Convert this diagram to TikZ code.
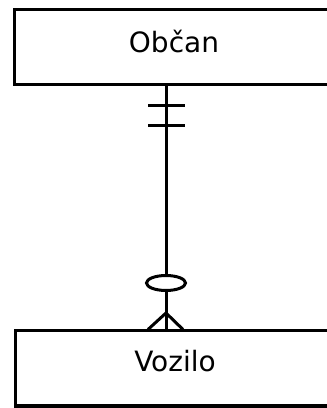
\documentclass[tikz,border=0pt]{standalone}
\usepackage{fontspec}
\setmainfont{DejaVu Sans}
\usepackage{tikz}
\usetikzlibrary{positioning,shapes.geometric}

\begin{document}
\begin{tikzpicture}[x=1pt,y=1pt,line width=3pt]
\tikzset{E/.style={draw,rectangle,minimum width=320pt,minimum height=75pt,
  font=\fontsize{28}{33}\selectfont,text height=14pt}}
\tikzset{R/.style={draw,ellipse,minimum width=39pt,minimum height=15pt,inner sep=0pt}}

  \useasboundingbox (0,0) rectangle (327,408);
  \node[E,text depth=3pt] (obcan) at (174,360.5) {Občan};
  \node[E,text depth=7pt] (vozilo) at (175,39.5) {Vozilo};
  \node[R] (ring) at (166,125) {};
  \coordinate (foot) at (166,95);

  \draw ([xshift=-8pt]obcan.south) -- (ring);
  \draw (ring) -- ([xshift=-9pt]vozilo.north);
  \draw ([xshift=-26pt,yshift=-19pt]obcan.south) -- ++(37,0);
  \draw ([xshift=-26pt,yshift=-39pt]obcan.south) -- ++(37,0);
  \draw (foot) -- ([xshift=-27pt]vozilo.north);
  \draw (foot) -- ([xshift=8pt]vozilo.north);
\end{tikzpicture}
\end{document}
